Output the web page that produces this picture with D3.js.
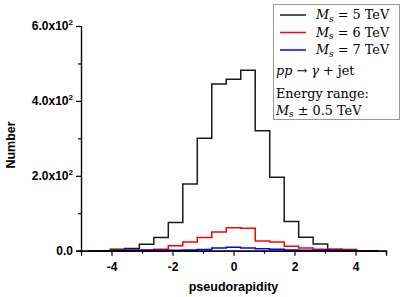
<!DOCTYPE html>
<html>
<head>
<meta charset="utf-8">
<script src="https://cdn.jsdelivr.net/npm/d3@7"></script>
<style>
  body { margin: 0; background: #fff; }
  svg { display: block; }
  .tick-label { font-family: "Liberation Sans", Arial, sans-serif; font-weight: bold; font-size: 12px; }
  .axis-title { font-family: "Liberation Sans", Arial, sans-serif; font-weight: bold; font-size: 12.5px; }
  .leg { font-family: "DejaVu Serif", serif; font-size: 12.8px; }
</style>
</head>
<body>
<div class="canvas"></div>
<script>
// bin centres in pseudorapidity
const eta = [-4.75, -4.275, -3.8, -3.325, -2.85, -2.375, -1.9, -1.425, -0.95, -0.475, 0,
             0.475, 0.95, 1.425, 1.9, 2.375, 2.85, 3.325, 3.8, 4.275, 4.75];
const ms5 = [0, 0, 4, 6, 17, 35, 75, 178, 300, 445, 458, 482, 320, 196, 78, 36, 18, 4, 3, 0, 0];
const ms6 = [0, 0, 1, 1, 2, 4, 13, 23, 35, 50, 61, 60, 26, 23, 12, 7, 4, 3, 2, 0, 0];
const ms7 = [0, 0, 0, 1, 1, 1, 1, 2, 3, 7, 9, 7, 5, 4, 2, 1, 1, 1, 0, 0, 0];

const seriesNames = ['5', '6', '7'];
const seriesColours = ['#1a1a1a', '#ff0000', '#0000ff'];

const xMajor = [-4, -2, 0, 2, 4];
const xMinor = [-3, -1, 1, 3, 5];
const yMajor = [0, 200, 400, 600];
const yMajorLabels = ['0.0', '2.0x10|2', '4.0x10|2', '6.0x10|2'];
const yMinor = [100, 300, 500];

const margin = {top: 26, left: 81, right: 21, bottom: 46};
const width = 407, height = 297;

const svg = d3.select('.canvas')
    .append('svg')
    .attr('width', width)
    .attr('height', height)

const x = d3.scaleLinear().domain([-5, 5]).range([margin.left, width - margin.right])
const y = d3.scaleLinear().domain([0, 600]).range([250.7, margin.top])

// histograms
const line = d3.line()
    .x(d => x(d[0]))
    .y(d => y(d[1]))
    .curve(d3.curveStep)

const allSeries = [ms5, ms6, ms7]
allSeries.forEach((vals, i) => {
    svg.append('path')
        .datum(eta.map((e, j) => [e, vals[j]]))
        .attr('d', line)
        .attr('fill', 'none')
        .attr('stroke', seriesColours[i])
        .attr('stroke-width', 1.5)
        .attr('stroke-linejoin', 'miter')
})

// axes
const xAxis = svg.append('g').attr('transform', `translate(0, ${y(0)})`)
xAxis.call(d3.axisBottom(x).tickValues(xMajor).tickSize(5).tickFormat(d => d < 0 ? '-' + Math.abs(d) : d))
xAxis.selectAll('text')
    .attr('class', 'tick-label')
    .attr('fill', '#000')
    .attr('dy', '1.05em')
xAxis.append('g').call(d3.axisBottom(x).tickValues(xMinor).tickSize(3).tickFormat(''))
xAxis.selectAll('.domain').attr('stroke', '#000').attr('stroke-width', 1.2)
xAxis.selectAll('.tick line').attr('stroke', '#000').attr('stroke-width', 1.2)

const yAxis = svg.append('g').attr('transform', `translate(${margin.left}, 0)`)
yAxis.call(d3.axisLeft(y).tickValues(yMajor).tickSize(5).tickFormat(''))
yAxis.append('g').call(d3.axisLeft(y).tickValues(yMinor).tickSize(3).tickFormat(''))
yAxis.selectAll('.domain').attr('stroke', '#000').attr('stroke-width', 1.2)
yAxis.selectAll('.tick line').attr('stroke', '#000').attr('stroke-width', 1.2)

yMajor.forEach((v, i) => {
    const parts = yMajorLabels[i].split('|')
    const t = svg.append('text')
        .attr('class', 'tick-label')
        .attr('x', 73)
        .attr('y', y(v) + 4)
        .attr('text-anchor', 'end')
    if (parts.length > 1) {
        t.append('tspan').text(parts[0])
        t.append('tspan').attr('font-size', '8px').attr('dy', -5).text(parts[1])
    } else {
        t.text(parts[0])
    }
})

svg.append('text')
    .attr('class', 'axis-title')
    .attr('x', x(0))
    .attr('y', 291)
    .attr('text-anchor', 'middle')
    .text('pseudorapidity')

svg.append('text')
    .attr('class', 'axis-title')
    .attr('transform', 'translate(15, 145) rotate(-90)')
    .attr('text-anchor', 'middle')
    .text('Number')

// legend box
const leg = svg.append('g')
leg.append('rect')
    .attr('x', 273.5).attr('y', 4.5)
    .attr('width', 126).attr('height', 115)
    .attr('fill', '#fff')
    .attr('stroke', '#999')
    .attr('stroke-width', 1)

seriesNames.forEach((n, i) => {
    const ly = 15 + i * 17.5
    leg.append('line')
        .attr('x1', 280).attr('x2', 306)
        .attr('y1', ly).attr('y2', ly)
        .attr('stroke', seriesColours[i])
        .attr('stroke-width', 1.5)
    const t = leg.append('text').attr('class', 'leg').attr('x', 316).attr('y', ly + 4)
    t.append('tspan').attr('font-style', 'italic').text('M')
    t.append('tspan').attr('font-style', 'italic').attr('font-size', '9px').attr('dy', 2.5).text('s')
    t.append('tspan').attr('dy', -2.5).text(' = ' + n + ' TeV')
})

const proc = leg.append('text').attr('class', 'leg').attr('x', 276).attr('y', 75)
proc.append('tspan').attr('font-style', 'italic').text('pp')
proc.append('tspan').text(' \u2192 ')
proc.append('tspan').attr('font-style', 'italic').text('\u03b3')
proc.append('tspan').text(' + jet')

leg.append('text').attr('class', 'leg').attr('x', 276).attr('y', 97.5).text('Energy range:')

const rng = leg.append('text').attr('class', 'leg').attr('x', 276).attr('y', 114.5)
rng.append('tspan').attr('font-style', 'italic').text('M')
rng.append('tspan').attr('font-style', 'italic').attr('font-size', '9px').attr('dy', 2.5).text('s')
rng.append('tspan').attr('dy', -2.5).text(' \u00b1 0.5 TeV')
</script>
</body>
</html>
